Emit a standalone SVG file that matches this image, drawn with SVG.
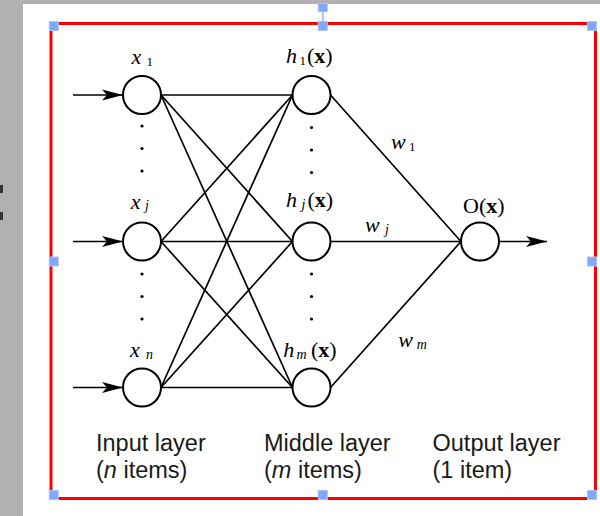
<svg xmlns="http://www.w3.org/2000/svg" width="600" height="516" viewBox="0 0 600 516">
  <style>
    .edge { stroke: #000; stroke-width: 1.7; fill: none; }
    .node { fill: #fff; stroke: #000; stroke-width: 2; }
    .dot { fill: #000; }
    .math { font-family: "Liberation Serif", "Times New Roman", serif; font-size: 22px; fill: #000; }
    .it { font-style: italic; }
    .sub { font-family: "Liberation Serif", "Times New Roman", serif; font-size: 14px; font-style: italic; fill: #000; }
    .num { font-family: "Liberation Serif", "Times New Roman", serif; font-size: 13px; fill: #000; }
    .bx { font-weight: bold; font-style: normal; }
    .cap { font-family: "Liberation Sans", Arial, sans-serif; font-size: 23.5px; fill: #1a1a1a; }
    .handle { fill: #80a8f8; stroke: #a9c3fa; stroke-width: 1; }
  </style>
  <defs>
    <marker id="head" markerUnits="userSpaceOnUse" markerWidth="24" markerHeight="14" refX="21" refY="6" orient="auto">
      <path d="M21,6 L0,0.5 L5,6 L0,11.5 Z" fill="#000"/>
    </marker>
  </defs>

  <!-- canvas -->
  <rect x="0" y="0" width="600" height="516" fill="#b1b1b1"/>
  <rect x="23" y="4" width="577" height="512" fill="#fff"/>
  <rect x="0" y="185" width="3" height="8" fill="#333"/>
  <rect x="0" y="212" width="3" height="8" fill="#333"/>

  <!-- connectors -->
  <g id="connectors">
    <!-- inputs -->
    <line class="edge" x1="73" y1="95" x2="123" y2="95" marker-end="url(#head)"/>
    <line class="edge" x1="73" y1="241.5" x2="123" y2="241.5" marker-end="url(#head)"/>
    <line class="edge" x1="73" y1="387.5" x2="123" y2="387.5" marker-end="url(#head)"/>
    <!-- input to middle -->
    <line class="edge" x1="161" y1="95" x2="292.5" y2="95"/>
    <line class="edge" x1="161" y1="95" x2="292.5" y2="241.5"/>
    <line class="edge" x1="161" y1="95" x2="292.5" y2="387.5"/>
    <line class="edge" x1="161" y1="241.5" x2="292.5" y2="95"/>
    <line class="edge" x1="161" y1="241.5" x2="292.5" y2="241.5"/>
    <line class="edge" x1="161" y1="241.5" x2="292.5" y2="387.5"/>
    <line class="edge" x1="161" y1="387.5" x2="292.5" y2="95"/>
    <line class="edge" x1="161" y1="387.5" x2="292.5" y2="241.5"/>
    <line class="edge" x1="161" y1="387.5" x2="292.5" y2="387.5"/>
    <!-- middle to output -->
    <line class="edge" x1="330.5" y1="95" x2="461" y2="241.5"/>
    <line class="edge" x1="330.5" y1="241.5" x2="461" y2="241.5"/>
    <line class="edge" x1="330.5" y1="387.5" x2="461" y2="241.5"/>
    <!-- output -->
    <line class="edge" x1="499" y1="241.5" x2="547" y2="241.5" marker-end="url(#head)"/>
  </g>

  <!-- input layer -->
  <g id="x1">
    <circle class="node" cx="142" cy="95" r="19"/>
    <text class="math it" x="131.5" y="64">x</text>
    <text class="num" x="146.5" y="66">1</text>
  </g>
  <g id="xj">
    <circle class="node" cx="142" cy="241.5" r="19"/>
    <text class="math it" x="130.7" y="208.5">x</text>
    <text class="sub" x="145" y="210">j</text>
  </g>
  <g id="xn">
    <circle class="node" cx="142" cy="387.5" r="19"/>
    <text class="math it" x="130" y="357">x</text>
    <text class="sub" x="146" y="358.5">n</text>
  </g>
  <g id="input-dots">
    <circle class="dot" cx="142" cy="126" r="1.6"/>
    <circle class="dot" cx="142" cy="148.5" r="1.6"/>
    <circle class="dot" cx="142" cy="171" r="1.6"/>
    <circle class="dot" cx="142" cy="274" r="1.6"/>
    <circle class="dot" cx="142" cy="296.5" r="1.6"/>
    <circle class="dot" cx="142" cy="319" r="1.6"/>
  </g>

  <!-- middle layer -->
  <g id="h1">
    <circle class="node" cx="311.5" cy="95" r="19"/>
    <text class="math it" x="286" y="63">h</text>
    <text class="num" x="299.5" y="65">1</text>
    <text class="math" x="307" y="63" font-size="23">(<tspan class="bx">x</tspan>)</text>
  </g>
  <g id="hj">
    <circle class="node" cx="311.5" cy="241.5" r="19"/>
    <text class="math it" x="286" y="206.7">h</text>
    <text class="sub" x="301.5" y="209">j</text>
    <text class="math" x="307.5" y="206.7" font-size="23">(<tspan class="bx">x</tspan>)</text>
  </g>
  <g id="hm">
    <circle class="node" cx="311.5" cy="387.5" r="19"/>
    <text class="math it" x="283.3" y="356.7">h</text>
    <text class="sub" x="296.5" y="358.5">m</text>
    <text class="math" x="311" y="356.7" font-size="23">(<tspan class="bx">x</tspan>)</text>
  </g>
  <g id="middle-dots">
    <circle class="dot" cx="311.5" cy="127.5" r="1.6"/>
    <circle class="dot" cx="311.5" cy="150" r="1.6"/>
    <circle class="dot" cx="311.5" cy="172.5" r="1.6"/>
    <circle class="dot" cx="311.5" cy="274" r="1.6"/>
    <circle class="dot" cx="311.5" cy="296.5" r="1.6"/>
    <circle class="dot" cx="311.5" cy="319" r="1.6"/>
  </g>

  <!-- weights -->
  <g id="weights">
    <text class="math it" x="391" y="149.3">w</text>
    <text class="num" x="409" y="151">1</text>
    <text class="math it" x="365" y="231.7">w</text>
    <text class="sub" x="385" y="233.5">j</text>
    <text class="math it" x="398.3" y="346.7">w</text>
    <text class="sub" x="416.7" y="348.5">m</text>
  </g>

  <!-- output layer -->
  <g id="out">
    <circle class="node" cx="480" cy="241.5" r="19"/>
    <text class="math" x="463" y="213.3">O(<tspan class="bx">x</tspan>)</text>
  </g>

  <!-- captions -->
  <g id="captions">
    <text class="cap" x="96" y="450.5">Input layer</text>
    <text class="cap" x="96" y="477.5">(<tspan font-style="italic">n</tspan> items)</text>
    <text class="cap" x="264" y="450.5">Middle layer</text>
    <text class="cap" x="264" y="477.5">(<tspan font-style="italic">m</tspan> items)</text>
    <text class="cap" x="432.5" y="450.5">Output layer</text>
    <text class="cap" x="432.5" y="477.5">(1 item)</text>
  </g>

  <!-- selection frame -->
  <g id="selection">
    <rect x="51" y="23.5" width="544.5" height="475" fill="none" stroke="#ff0000" stroke-width="3"/>
    <line x1="322.8" y1="11" x2="322.8" y2="21" stroke="#a9c3fa" stroke-width="2"/>
    <rect class="handle" x="318.3" y="3.5" width="9" height="8"/>
    <rect class="handle" x="49.3" y="21.5" width="9" height="9"/>
    <rect class="handle" x="318.3" y="21.5" width="9" height="9"/>
    <rect class="handle" x="587.5" y="21.5" width="9" height="9"/>
    <rect class="handle" x="49.3" y="257" width="9" height="9"/>
    <rect class="handle" x="587.5" y="257" width="9" height="9"/>
    <rect class="handle" x="49.3" y="490.5" width="9" height="9"/>
    <rect class="handle" x="318.3" y="490.5" width="9" height="9"/>
    <rect class="handle" x="587.5" y="490.5" width="9" height="9"/>
  </g>
</svg>
